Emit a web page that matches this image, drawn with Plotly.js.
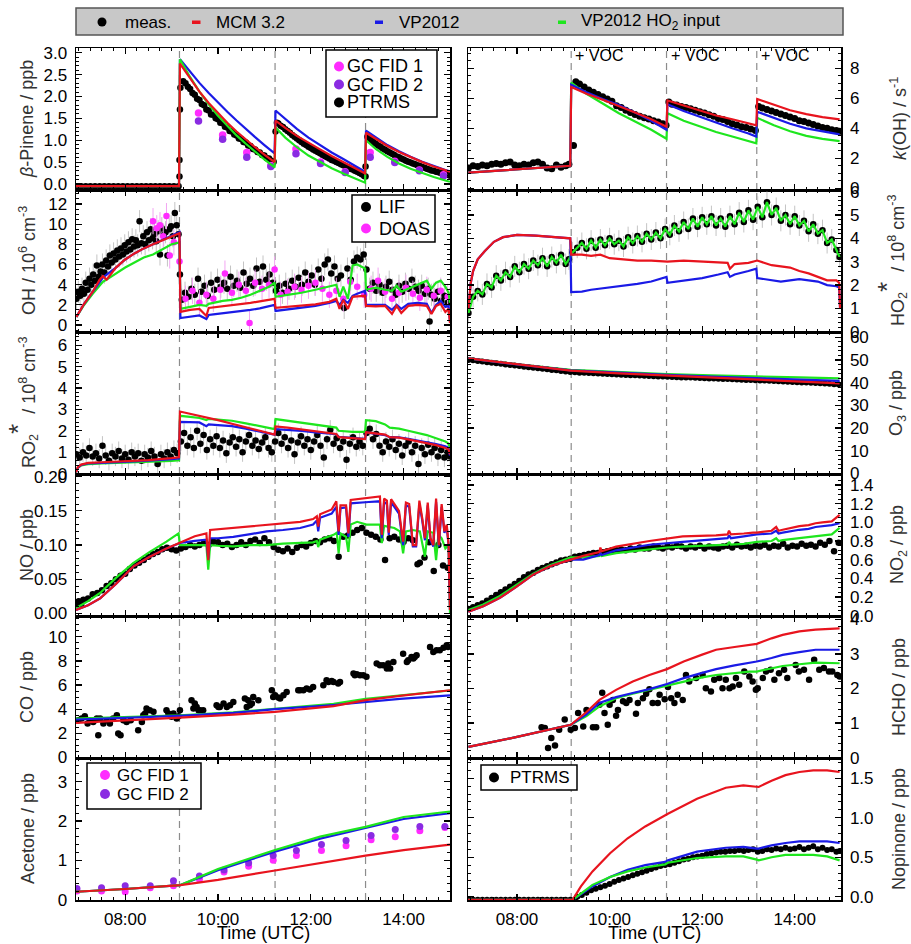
<!DOCTYPE html>
<html><head><meta charset="utf-8">
<script src="https://cdn.plot.ly/plotly-3.0.1.min.js"></script>
<style>html,body{margin:0;padding:0;background:#fff}</style>
</head><body><div id="chart" style="width:911px;height:944px"></div>
<script>
// ================= DATA =================
const vocT = [9.17, 11.23, 13.18];
const xTickVals = [8, 10, 12, 14];
const xTickText = ['08:00', '10:00', '12:00', '14:00'];

// --- beta-pinene (models) ---
const bpT = [6.94, 9.16, 9.18, 9.4, 9.6, 9.8, 10.0, 10.2, 10.4, 10.6, 10.8, 11.0, 11.22, 11.24, 11.45, 11.7, 11.95, 12.2, 12.45, 12.7, 12.95, 13.17, 13.19, 13.4, 13.65, 13.9, 14.15, 14.4, 14.65, 14.9, 15.0];
const bpMCM = [-0.05, -0.05, 2.75, 2.40, 2.11, 1.85, 1.62, 1.40, 1.20, 1.01, 0.84, 0.67, 0.50, 1.45, 1.28, 1.10, 0.94, 0.79, 0.64, 0.50, 0.36, 0.24, 1.17, 1.03, 0.87, 0.73, 0.61, 0.50, 0.40, 0.31, 0.28];
const bpVP = [-0.05, -0.05, 2.85, 2.56, 2.31, 2.08, 1.86, 1.65, 1.45, 1.25, 1.07, 0.89, 0.70, 1.68, 1.48, 1.26, 1.06, 0.88, 0.72, 0.57, 0.42, 0.28, 1.22, 1.06, 0.89, 0.75, 0.62, 0.51, 0.41, 0.32, 0.29];
const bpVPH = [-0.05, -0.05, 2.85, 2.44, 2.11, 1.82, 1.56, 1.33, 1.11, 0.92, 0.73, 0.56, 0.38, 1.29, 1.06, 0.84, 0.65, 0.50, 0.36, 0.24, 0.12, 0.03, 1.0, 0.80, 0.62, 0.47, 0.35, 0.25, 0.16, 0.08, 0.05];
// --- beta-pinene (measurements) ---
const bpGCT = [9.58, 10.10, 10.62, 11.14, 11.68, 12.21, 12.74, 13.28, 13.81, 14.34, 14.86];
const bpGC1 = [1.62, 1.12, 0.72, 0.42, 0.80, 0.50, 0.28, 0.72, 0.52, 0.32, 0.21];
const bpGC2 = [1.44, 1.02, 0.61, 0.40, 0.69, 0.47, 0.26, 0.61, 0.49, 0.30, 0.18];
const bpPTR = [[6.95,-0.05],[7.05,-0.05],[7.15,-0.05],[7.25,-0.05],[7.35,-0.05],[7.45,-0.05],[7.55,-0.05],[7.65,-0.05],[7.75,-0.05],[7.85,-0.05],[7.95,-0.05],[8.05,-0.05],[8.15,-0.05],[8.25,-0.05],[8.35,-0.05],[8.45,-0.05],[8.55,-0.05],[8.65,-0.05],[8.75,-0.05],[8.85,-0.05],[8.95,-0.05],[9.05,-0.05],[9.15,-0.05],
[9.17,0.17],[9.17,0.55],[9.18,1.7],[9.19,2.2],
[9.25,2.35],[9.3,2.30],[9.35,2.22],[9.4,2.17],[9.45,2.08],[9.5,2.04],[9.55,1.95],[9.6,1.92],[9.65,1.83],[9.7,1.80],[9.75,1.70],[9.8,1.68],[9.85,1.59],[9.9,1.58],[9.95,1.50],[10.0,1.48],[10.05,1.40],[10.1,1.39],[10.15,1.31],[10.2,1.29],[10.25,1.21],[10.3,1.20],[10.35,1.13],[10.4,1.11],[10.45,1.04],[10.5,1.03],[10.55,0.96],[10.6,0.95],[10.65,0.88],[10.7,0.87],[10.75,0.80],[10.8,0.79],[10.85,0.73],[10.9,0.72],[10.95,0.66],[11.0,0.65],[11.05,0.59],[11.1,0.58],[11.15,0.53],[11.2,0.51],
[11.24,1.2],[11.27,1.40],[11.3,1.38],[11.35,1.33],[11.4,1.30],[11.45,1.25],[11.5,1.21],[11.55,1.17],[11.6,1.12],[11.65,1.08],[11.7,1.04],[11.75,1.0],[11.8,0.96],[11.85,0.92],[11.9,0.89],[11.95,0.85],[12.0,0.82],[12.05,0.79],[12.1,0.76],[12.15,0.73],[12.2,0.70],[12.25,0.67],[12.3,0.64],[12.35,0.61],[12.4,0.58],[12.45,0.55],[12.5,0.53],[12.55,0.50],[12.6,0.48],[12.65,0.45],[12.7,0.43],[12.75,0.40],[12.8,0.38],[12.85,0.35],[12.9,0.33],[12.95,0.30],[13.0,0.28],[13.05,0.25],[13.1,0.22],[13.15,0.18],
[13.18,0.17],[13.18,0.40],
[13.22,1.08],[13.25,1.05],[13.3,1.0],[13.35,0.96],[13.4,0.92],[13.45,0.88],[13.5,0.85],[13.55,0.81],[13.6,0.78],[13.65,0.75],[13.7,0.72],[13.75,0.69],[13.8,0.66],[13.85,0.63],[13.9,0.61],[13.95,0.58],[14.0,0.56],[14.05,0.53],[14.1,0.51],[14.15,0.49],[14.2,0.47],[14.25,0.45],[14.3,0.43],[14.35,0.41],[14.4,0.39],[14.45,0.37],[14.5,0.35],[14.55,0.33],[14.6,0.31],[14.65,0.30],[14.7,0.28],[14.75,0.27],[14.8,0.25],[14.85,0.24],[14.9,0.22],[14.95,0.21],[15.0,0.19]];

// --- k(OH) ---
const kT = [6.95, 9.15, 9.17, 9.5, 9.85, 10.2, 10.55, 10.9, 11.23, 11.25, 11.6, 11.95, 12.3, 12.65, 13.0, 13.17, 13.19, 13.55, 13.9, 14.25, 14.6, 14.97];
const kMCM = [1.05, 1.5, 6.75, 6.3, 5.9, 5.5, 5.05, 4.6, 4.1, 5.85, 5.5, 5.15, 4.85, 4.6, 4.35, 4.2, 5.95, 5.55, 5.2, 4.95, 4.75, 4.6];
const kVP = [1.05, 1.5, 6.9, 6.4, 5.95, 5.55, 5.05, 4.5, 3.9, 5.6, 5.15, 4.75, 4.35, 4.0, 3.65, 3.45, 5.1, 4.7, 4.3, 4.0, 3.8, 3.6];
const kVPH = [1.05, 1.5, 7.05, 6.3, 5.65, 5.0, 4.45, 3.9, 3.3, 5.0, 4.5, 4.1, 3.75, 3.45, 3.15, 3.0, 4.7, 4.2, 3.8, 3.5, 3.3, 3.15];
const kMeas = [[6.95,1.35],[7.05,1.5],[7.15,1.45],[7.25,1.55],[7.35,1.5],[7.45,1.6],[7.55,1.65],[7.65,1.6],[7.75,1.7],[7.85,1.75],[7.95,1.55],[8.05,1.5],[8.15,1.6],[8.25,1.55],[8.35,1.7],[8.45,1.75],[8.55,1.6],[8.65,1.35],[8.75,1.3],[8.85,1.55],[8.95,1.4],[9.05,1.5],[9.12,1.6],[9.22,2.85],
[9.27,7.1],[9.35,6.95],[9.45,6.75],[9.55,6.55],[9.65,6.4],[9.75,6.25],[9.85,6.1],[9.95,5.95],[10.05,5.8],[10.15,5.5],[10.25,5.38],[10.35,5.2],[10.45,5.05],[10.55,4.92],[10.65,4.8],[10.75,4.7],[10.85,4.62],[10.95,4.5],[11.05,4.42],[11.15,4.3],[11.22,4.2],
[11.28,5.75],[11.35,5.6],[11.45,5.55],[11.55,5.45],[11.65,5.38],[11.75,5.3],[11.85,5.2],[11.95,5.1],[12.05,5.02],[12.15,4.9],[12.25,4.8],[12.35,4.65],[12.45,4.58],[12.55,4.45],[12.65,4.3],[12.75,4.22],[12.85,4.1],[12.95,4.05],[13.05,3.95],[13.15,3.85],
[13.22,5.45],[13.3,5.35],[13.4,5.25],[13.5,5.15],[13.6,5.05],[13.7,4.95],[13.8,4.85],[13.9,4.75],[14.0,4.65],[14.1,4.5],[14.2,4.45],[14.3,4.35],[14.4,4.25],[14.5,4.15],[14.6,4.05],[14.7,4.0],[14.8,3.9],[14.9,3.85],[14.97,3.8]];

// --- OH ---
const ohT = [6.95, 7.1, 7.3, 7.45, 7.52, 7.6, 7.8, 8.0, 8.2, 8.4, 8.6, 8.8, 9.0, 9.17, 9.19, 9.4, 9.6, 9.75, 9.8, 9.9, 10.1, 10.3, 10.5, 10.7, 10.9, 11.1, 11.22, 11.24, 11.5, 11.8, 12.1, 12.4, 12.55, 12.62, 12.7, 12.8, 12.9, 13.0, 13.17, 13.19, 13.4, 13.6, 13.75, 13.85, 13.95, 14.1, 14.3, 14.5, 14.6, 14.7, 14.8, 14.9, 14.97, 15.0];
const ohMCM = [0.8, 2.0, 3.3, 4.5, 4.85, 4.5, 5.7, 6.5, 7.1, 7.6, 8.0, 8.4, 8.8, 9.1, 1.3, 1.5, 1.6, 0.9, 1.7, 1.75, 1.85, 1.95, 2.05, 2.2, 2.35, 2.5, 2.6, 1.7, 1.8, 1.9, 2.05, 2.3, 2.6, 1.6, 2.5, 1.6, 2.8, 2.85, 2.9, 1.9, 1.85, 1.9, 1.1, 1.9, 1.2, 1.9, 2.0, 1.9, 1.1, 1.9, 2.1, 1.3, 1.6, 0.2];
const ohVP = [0.8, 2.0, 3.3, 4.3, 4.7, 5.0, 5.7, 6.5, 7.1, 7.6, 8.0, 8.45, 8.85, 9.2, 0.7, 0.85, 0.95, 0.6, 1.0, 1.05, 1.15, 1.25, 1.35, 1.5, 1.65, 1.85, 2.0, 1.4, 1.55, 1.7, 1.9, 2.2, 2.4, 2.0, 2.5, 2.2, 2.9, 3.1, 3.4, 2.0, 2.0, 2.0, 1.5, 2.0, 1.6, 2.1, 2.2, 2.1, 1.2, 2.0, 2.4, 1.8, 1.9, 0.3];
const ohVPH = [0.8, 1.9, 3.1, 4.0, 4.3, 4.5, 5.1, 5.7, 6.2, 6.7, 7.0, 7.5, 8.0, 8.2, 1.6, 1.8, 2.0, 1.9, 2.1, 2.2, 2.4, 2.5, 2.7, 3.0, 3.4, 3.8, 4.2, 2.8, 3.0, 3.2, 3.5, 3.8, 4.0, 2.8, 3.8, 2.6, 5.9, 6.0, 5.6, 3.5, 3.7, 3.5, 3.4, 3.9, 3.3, 3.6, 4.0, 4.4, 3.6, 4.2, 4.4, 3.8, 3.2, 2.2];
const ohLIF = [[6.95,2.6],[6.99,3.3],[7.03,2.9],[7.07,3.6],[7.11,3.1],[7.15,4.2],[7.19,3.5],[7.23,4.6],[7.27,4.0],[7.31,5.0],[7.35,4.4],[7.39,5.9],[7.43,4.8],[7.47,5.3],[7.51,6.0],[7.55,5.2],[7.59,6.4],[7.63,5.8],[7.67,6.9],[7.71,6.2],[7.75,7.1],[7.79,6.5],[7.83,7.4],[7.87,6.8],[7.91,7.6],[7.95,7.0],[7.99,7.9],[8.03,7.3],[8.07,8.2],[8.11,7.5],[8.15,8.5],[8.19,7.8],[8.23,8.4],[8.27,7.9],[8.31,10.3],[8.35,8.1],[8.39,8.8],[8.43,8.0],[8.47,9.2],[8.51,8.4],[8.55,9.5],[8.59,8.6],[8.63,9.0],[8.67,8.3],[8.71,9.3],[8.75,7.0],[8.79,9.6],[8.83,8.9],[8.87,9.2],[8.91,6.9],[8.95,9.5],[8.99,9.8],[9.03,8.8],[9.07,11.1],[9.11,9.9],[9.15,9.0],[9.18,5.0],
[9.22,2.5],[9.29,3.2],[9.36,2.8],[9.43,3.6],[9.5,3.0],[9.57,4.6],[9.64,3.3],[9.71,3.9],[9.78,2.9],[9.85,4.2],[9.92,3.5],[9.99,4.5],[10.06,3.8],[10.13,4.2],[10.2,3.6],[10.27,4.8],[10.34,3.9],[10.41,4.4],[10.48,3.7],[10.55,5.2],[10.62,4.1],[10.69,4.6],[10.76,3.9],[10.83,5.6],[10.9,4.3],[10.97,5.8],[11.04,4.5],[11.11,5.0],[11.18,4.2],[11.25,3.4],[11.32,3.9],[11.39,3.2],[11.46,4.1],[11.53,3.6],[11.6,4.4],[11.67,3.8],[11.74,4.7],[11.81,4.0],[11.88,5.2],[11.95,4.3],[12.02,4.9],[12.09,4.0],[12.16,5.5],[12.23,4.6],[12.3,6.0],[12.37,6.5],[12.44,5.1],[12.51,5.8],[12.58,4.6],[12.65,4.9],[12.72,1.7],[12.79,5.6],[12.86,4.5],[12.93,6.3],[13.0,6.7],[13.07,6.5],[13.14,7.0],[13.2,5.5],[13.27,3.6],[13.34,4.2],[13.41,3.4],[13.48,4.0],[13.55,3.2],[13.62,3.8],[13.69,4.3],[13.76,3.5],[13.83,3.0],[13.9,3.9],[13.97,3.3],[14.04,4.1],[14.11,3.6],[14.18,4.5],[14.25,3.8],[14.32,3.4],[14.39,3.9],[14.46,3.1],[14.53,3.6],[14.56,0.35],[14.6,3.0],[14.67,2.6],[14.74,3.3],[14.81,2.4],[14.88,2.9],[14.95,2.2],[15.0,2.6]];
const ohDOAS = [[8.6,10.3],[8.68,9.6],[8.75,9.9],[8.82,8.8],[8.89,10.8],[8.96,6.9],[9.05,8.2],[9.17,6.3],
[9.3,2.6],[9.45,3.4],[9.6,2.2],[9.75,3.0],[9.9,2.6],[10.05,3.5],[10.15,5.1],[10.3,3.2],[10.45,4.0],[10.6,3.4],[10.68,0.2],[10.8,4.2],[10.95,3.6],[11.1,4.0],[11.22,5.5],[11.35,3.0],[11.5,3.3],[11.65,3.8],[11.8,3.5],[11.95,3.9],[12.1,4.2],[12.25,3.6],[12.4,3.0],[12.55,3.4],[12.7,2.6],[12.85,4.3],[13.0,3.8],[13.15,3.0],[13.3,3.6],[13.45,4.4],[13.6,3.3],[13.75,2.6],[13.9,3.2],[14.05,3.7],[14.2,3.1],[14.35,2.7],[14.5,3.5],[14.65,2.9],[14.8,3.4],[14.95,2.8]];

// --- HO2* ---
const hoT = [6.95, 7.0, 7.05, 7.15, 7.3, 7.5, 7.7, 8.0, 8.4, 8.8, 9.15, 9.17, 9.4, 9.6, 9.8, 10.0, 10.3, 10.6, 10.9, 11.23, 11.25, 11.6, 12.0, 12.35, 12.55, 12.6, 12.7, 13.0, 13.17, 13.19, 13.5, 13.7, 13.9, 14.1, 14.3, 14.5, 14.7, 14.9, 14.96, 14.98];
const hoMCM = [1.0, 2.1, 2.6, 3.1, 3.45, 3.85, 4.05, 4.15, 4.12, 4.05, 4.0, 3.3, 3.3, 3.25, 3.3, 3.15, 3.1, 3.05, 3.05, 3.0, 3.0, 3.05, 3.0, 2.95, 2.95, 2.7, 2.9, 2.95, 3.05, 3.05, 2.85, 2.8, 2.75, 2.6, 2.5, 2.35, 2.2, 2.2, 2.1, 1.0];
const hoVP = [1.0, 2.1, 2.6, 3.1, 3.45, 3.85, 4.05, 4.15, 4.12, 4.05, 4.0, 1.7, 1.72, 1.8, 1.85, 1.9, 1.95, 2.05, 2.15, 2.35, 2.1, 2.2, 2.3, 2.45, 2.55, 2.35, 2.45, 2.6, 2.7, 2.3, 2.2, 2.15, 2.2, 2.25, 2.2, 2.15, 2.0, 1.95, 1.9, 1.0];
const hoMeas = [[6.95,0.8],[7.05,1.5],[7.15,1.75],[7.25,1.6],[7.35,2.05],[7.45,1.9],[7.55,2.4],[7.65,2.2],[7.75,2.55],[7.85,2.35],[7.95,2.8],[8.05,2.55],[8.15,2.9],[8.25,2.7],[8.35,3.05],[8.45,2.85],[8.55,3.15],[8.65,2.8],[8.75,3.2],[8.85,2.95],[8.95,3.3],[9.05,2.9],[9.12,3.1],
[9.2,3.4],[9.3,3.6],[9.4,3.8],[9.5,3.55],[9.6,3.9],[9.7,3.6],[9.8,3.95],[9.9,3.7],[10.0,4.0],[10.1,3.75],[10.2,3.9],[10.3,3.65],[10.4,4.05],[10.5,3.8],[10.6,4.1],[10.7,3.85],[10.8,4.2],[10.9,3.95],[11.0,4.25],[11.1,4.0],[11.2,4.4],[11.3,4.15],[11.4,4.55],[11.5,4.3],[11.6,4.7],[11.7,4.4],[11.8,4.85],[11.9,4.5],[12.0,4.9],[12.1,4.6],[12.2,4.95],[12.3,4.55],[12.4,4.85],[12.5,4.5],[12.6,4.95],[12.7,4.6],[12.8,5.1],[12.9,4.7],[13.0,5.2],[13.1,4.8],[13.2,5.35],[13.3,4.9],[13.4,5.55],[13.5,5.0],[13.6,5.3],[13.7,4.75],[13.8,5.0],[13.9,4.6],[14.0,4.95],[14.1,4.55],[14.2,4.75],[14.3,4.3],[14.4,4.6],[14.5,4.2],[14.6,4.35],[14.7,3.8],[14.8,3.95],[14.9,3.5],[14.97,3.2]];

// --- RO2* ---
const roT = [6.94, 6.98, 7.05, 7.2, 7.5, 8.0, 8.5, 9.0, 9.16, 9.18, 9.4, 9.6, 9.75, 9.8, 10.0, 10.3, 10.6, 10.9, 11.22, 11.24, 11.5, 11.8, 12.1, 12.4, 12.55, 12.6, 12.9, 13.17, 13.19, 13.4, 13.6, 13.7, 13.9, 14.1, 14.3, 14.5, 14.7, 14.9, 14.97, 15.0];
const roMCM = [0.06, 0.3, 0.42, 0.5, 0.53, 0.57, 0.63, 0.72, 0.76, 2.9, 2.8, 2.7, 2.62, 2.6, 2.5, 2.33, 2.15, 2.0, 1.82, 2.2, 2.15, 2.07, 1.98, 1.9, 1.85, 1.7, 1.65, 1.61, 1.93, 1.88, 1.82, 1.7, 1.68, 1.6, 1.52, 1.43, 1.33, 1.2, 1.12, 0.9];
const roVP = [0.06, 0.28, 0.4, 0.47, 0.5, 0.54, 0.6, 0.67, 0.7, 2.42, 2.41, 2.39, 2.22, 2.3, 2.27, 2.22, 2.1, 1.97, 1.82, 2.08, 2.05, 2.0, 1.93, 1.87, 1.84, 1.72, 1.67, 1.62, 1.93, 1.88, 1.8, 1.7, 1.69, 1.62, 1.55, 1.47, 1.38, 1.27, 1.2, 0.84];
const roVPH = [0.06, 0.27, 0.38, 0.44, 0.47, 0.5, 0.54, 0.59, 0.62, 2.7, 2.65, 2.6, 2.5, 2.56, 2.52, 2.47, 2.35, 2.22, 2.08, 2.55, 2.47, 2.4, 2.3, 2.2, 2.15, 2.0, 1.95, 1.95, 2.5, 2.45, 2.3, 2.15, 2.1, 2.0, 1.9, 1.8, 1.65, 1.5, 1.4, 1.2];
const roMeas = [[6.95,0.9],[7.02,0.75],[7.09,1.0],[7.16,0.85],[7.23,1.2],[7.3,0.8],[7.37,0.95],[7.44,0.7],[7.51,1.3],[7.58,0.85],[7.65,0.6],[7.72,0.95],[7.79,0.8],[7.86,1.05],[7.93,0.7],[8.0,0.9],[8.07,0.65],[8.14,1.0],[8.21,0.8],[8.28,0.95],[8.35,0.6],[8.42,0.9],[8.49,0.75],[8.56,1.05],[8.63,0.8],[8.7,0.45],[8.77,0.9],[8.84,0.7],[8.91,1.0],[8.98,0.8],[9.05,1.1],[9.12,0.95],
[9.2,1.5],[9.27,1.9],[9.34,1.3],[9.41,1.7],[9.48,1.2],[9.55,2.0],[9.62,1.4],[9.69,1.8],[9.76,1.1],[9.83,1.6],[9.9,1.3],[9.97,1.75],[10.04,1.2],[10.11,1.55],[10.18,0.95],[10.25,1.45],[10.32,1.7],[10.39,1.25],[10.46,1.6],[10.53,1.0],[10.6,1.5],[10.67,1.8],[10.74,1.3],[10.81,1.55],[10.88,1.15],[10.95,1.45],[11.02,1.7],[11.09,1.2],[11.16,1.0],[11.23,1.5],[11.3,1.9],[11.37,1.4],[11.44,1.7],[11.51,1.2],[11.58,1.55],[11.65,0.9],[11.72,1.45],[11.79,1.75],[11.86,1.3],[11.93,1.6],[12.0,1.1],[12.07,1.5],[12.14,1.8],[12.21,1.3],[12.28,0.75],[12.35,1.6],[12.42,2.05],[12.49,1.4],[12.56,1.65],[12.63,1.2],[12.7,1.5],[12.77,0.65],[12.84,1.4],[12.91,1.7],[12.98,1.25],[13.05,1.5],[13.12,1.3],[13.2,1.9],[13.27,2.1],[13.34,1.6],[13.41,1.85],[13.48,1.3],[13.55,1.0],[13.62,1.5],[13.69,1.25],[13.76,1.6],[13.83,1.1],[13.9,1.4],[13.97,0.85],[14.04,1.3],[14.11,1.5],[14.18,1.0],[14.25,1.3],[14.32,0.45],[14.39,1.2],[14.46,0.9],[14.53,1.35],[14.6,1.0],[14.67,1.2],[14.74,0.8],[14.81,1.1],[14.88,0.75],[14.95,1.0],[15.0,0.8]];

// --- O3 ---
const o3T = [6.95, 8.0, 9.16, 10.2, 11.24, 12.2, 13.18, 14.1, 14.97];
const o3MCM = [50.7, 48.0, 45.3, 44.1, 43.1, 42.3, 41.5, 40.6, 39.7];
const o3VP = [50.7, 48.0, 45.4, 44.3, 43.4, 42.6, 42.0, 41.5, 40.8];
const o3VPH = [50.7, 48.1, 45.6, 44.6, 43.8, 43.2, 42.6, 42.3, 41.9];
const o3Meas = [[6.95,50.0],[7.05,49.8],[7.15,49.5],[7.25,49.3],[7.35,49.0],[7.45,48.8],[7.55,48.5],[7.65,48.3],[7.75,48.0],[7.85,47.8],[7.95,47.5],[8.05,47.3],[8.15,47.0],[8.25,46.8],[8.35,46.6],[8.45,46.3],[8.55,46.1],[8.65,45.9],[8.75,45.6],[8.85,45.4],[8.95,45.1],[9.05,44.9],[9.15,44.7],[9.25,44.6],[9.35,44.4],[9.45,44.3],[9.55,44.2],[9.65,44.1],[9.75,44.0],[9.85,43.9],[9.95,43.8],[10.05,43.7],[10.15,43.6],[10.25,43.5],[10.35,43.4],[10.45,43.3],[10.55,43.2],[10.65,43.1],[10.75,43.0],[10.85,42.9],[10.95,42.8],[11.05,42.7],[11.15,42.65],[11.25,42.6],[11.35,42.5],[11.45,42.4],[11.55,42.3],[11.65,42.25],[11.75,42.2],[11.85,42.1],[11.95,42.0],[12.05,41.9],[12.15,41.85],[12.25,41.8],[12.35,41.7],[12.45,41.6],[12.55,41.55],[12.65,41.5],[12.75,41.4],[12.85,41.3],[12.95,41.2],[13.05,41.1],[13.15,41.0],[13.25,40.95],[13.35,40.9],[13.45,40.8],[13.55,40.7],[13.65,40.6],[13.75,40.5],[13.85,40.4],[13.95,40.3],[14.05,40.2],[14.15,40.1],[14.25,40.0],[14.35,39.9],[14.45,39.8],[14.55,39.7],[14.65,39.6],[14.75,39.5],[14.85,39.3],[14.95,39.2]];

// --- NO ---
const noT = [6.94, 7.2, 7.46, 7.8, 8.18, 8.53, 8.89, 9.18, 9.5, 9.75, 9.79, 9.83, 10.0, 10.33, 10.7, 11.05, 11.4, 11.77, 12.05, 12.13, 12.16, 12.2, 12.45, 12.55, 12.6, 12.64, 12.76, 12.81, 12.86, 13.0, 13.25, 13.49, 13.53, 13.58, 13.64, 13.68, 13.73, 13.8, 13.9, 13.99, 14.05, 14.12, 14.2, 14.27, 14.34, 14.4, 14.46, 14.52, 14.58, 14.64, 14.7, 14.76, 14.82, 14.88, 14.93, 14.97, 15.0];
const noMCM = [0.005, 0.012, 0.022, 0.043, 0.069, 0.083, 0.095, 0.104, 0.113, 0.117, 0.078, 0.122, 0.123, 0.125, 0.127, 0.13, 0.131, 0.134, 0.138, 0.142, 0.127, 0.145, 0.152, 0.164, 0.12, 0.158, 0.158, 0.117, 0.166, 0.167, 0.169, 0.171, 0.115, 0.168, 0.165, 0.118, 0.167, 0.16, 0.15, 0.105, 0.162, 0.16, 0.1, 0.1, 0.165, 0.14, 0.11, 0.162, 0.11, 0.1, 0.168, 0.1, 0.16, 0.12, 0.13, 0.1, 0.005];
const noVP = [0.005, 0.012, 0.022, 0.043, 0.069, 0.083, 0.095, 0.103, 0.106, 0.108, 0.08, 0.11, 0.11, 0.112, 0.116, 0.12, 0.122, 0.125, 0.13, 0.136, 0.12, 0.14, 0.146, 0.156, 0.115, 0.154, 0.155, 0.112, 0.161, 0.162, 0.163, 0.164, 0.11, 0.163, 0.16, 0.115, 0.162, 0.156, 0.146, 0.1, 0.158, 0.156, 0.098, 0.098, 0.16, 0.137, 0.107, 0.158, 0.107, 0.098, 0.163, 0.098, 0.156, 0.118, 0.126, 0.1, 0.005];
const noTg = [6.94, 7.2, 7.46, 7.8, 8.18, 8.53, 8.89, 9.15, 9.18, 9.5, 9.75, 9.79, 9.83, 10.0, 10.33, 10.7, 11.05, 11.4, 11.77, 12.05, 12.13, 12.16, 12.2, 12.49, 12.56, 12.6, 12.64, 12.76, 12.81, 12.86, 13.0, 13.2, 13.49, 13.53, 13.58, 13.8, 13.92, 13.99, 14.05, 14.2, 14.35, 14.46, 14.52, 14.64, 14.7, 14.75, 14.82, 14.9, 14.97, 15.0];
const noVPH = [0.008, 0.018, 0.03, 0.052, 0.074, 0.09, 0.105, 0.117, 0.1, 0.1, 0.1, 0.064, 0.1, 0.099, 0.098, 0.1, 0.1, 0.102, 0.103, 0.104, 0.106, 0.097, 0.108, 0.115, 0.118, 0.088, 0.117, 0.112, 0.09, 0.13, 0.134, 0.13, 0.13, 0.103, 0.128, 0.125, 0.12, 0.088, 0.12, 0.122, 0.12, 0.083, 0.12, 0.118, 0.078, 0.115, 0.11, 0.095, 0.1, 0.0];
const noMeas = [[6.95,0.015],[7.0,0.018],[7.05,0.013],[7.1,0.02],[7.2,0.022],[7.3,0.028],[7.4,0.03],[7.5,0.034],[7.6,0.04],[7.7,0.044],[7.8,0.05],[7.9,0.055],[8.0,0.058],[8.1,0.065],[8.2,0.07],[8.3,0.074],[8.4,0.078],[8.5,0.083],[8.6,0.087],[8.7,0.09],[8.8,0.094],[8.9,0.096],[9.0,0.094],[9.1,0.092],
[9.2,0.095],[9.3,0.097],[9.4,0.1],[9.5,0.098],[9.6,0.1],[9.7,0.103],[9.8,0.1],[9.9,0.105],[10.0,0.104],[10.1,0.1],[10.2,0.102],[10.3,0.097],[10.4,0.1],[10.5,0.104],[10.6,0.1],[10.7,0.106],[10.8,0.108],[10.9,0.103],[11.0,0.11],[11.1,0.104],[11.2,0.097],[11.3,0.093],[11.4,0.091],[11.5,0.095],[11.6,0.09],[11.7,0.096],[11.8,0.1],[11.9,0.098],[12.0,0.103],[12.1,0.106],[12.2,0.104],[12.3,0.108],[12.4,0.11],[12.5,0.106],[12.6,0.083],[12.7,0.112],[12.8,0.114],[12.9,0.118],[13.0,0.122],[13.1,0.125],[13.2,0.118],[13.3,0.115],[13.4,0.112],[13.5,0.108],[13.6,0.078],[13.7,0.11],[13.8,0.112],[13.9,0.108],[14.0,0.105],[14.1,0.11],[14.2,0.107],[14.3,0.072],[14.35,0.074],[14.45,0.082],[14.55,0.104],[14.65,0.062],[14.75,0.1],[14.85,0.07],[14.95,0.067]];

// --- NO2 ---
const n2T = [6.95, 7.27, 7.63, 7.99, 8.35, 8.71, 9.16, 9.43, 9.78, 9.8, 9.83, 10.14, 10.86, 11.24, 11.58, 12.3, 12.55, 12.58, 12.62, 12.9, 13.02, 13.1, 13.18, 13.5, 13.6, 13.65, 13.74, 14.1, 14.3, 14.45, 14.6, 14.8, 14.97];
const n2MCM = [0.043, 0.1, 0.19, 0.31, 0.44, 0.53, 0.6, 0.64, 0.68, 0.73, 0.69, 0.74, 0.8, 0.83, 0.85, 0.86, 0.87, 0.91, 0.87, 0.88, 0.89, 0.89, 0.89, 0.91, 0.95, 0.91, 0.92, 0.96, 0.97, 0.99, 1.0, 1.01, 1.08];
const n2VP = [0.043, 0.1, 0.19, 0.31, 0.44, 0.53, 0.6, 0.6, 0.65, 0.67, 0.65, 0.7, 0.76, 0.78, 0.79, 0.82, 0.83, 0.86, 0.83, 0.85, 0.86, 0.86, 0.87, 0.88, 0.91, 0.88, 0.89, 0.92, 0.93, 0.95, 0.96, 0.97, 0.99];
const n2VPH = [0.06, 0.12, 0.21, 0.33, 0.45, 0.54, 0.625, 0.625, 0.64, 0.67, 0.64, 0.67, 0.71, 0.73, 0.74, 0.76, 0.76, 0.79, 0.76, 0.77, 0.78, 0.78, 0.79, 0.8, 0.83, 0.8, 0.81, 0.83, 0.84, 0.85, 0.86, 0.87, 0.94];
const n2Meas = [[6.95,0.07],[7.05,0.09],[7.15,0.11],[7.25,0.13],[7.35,0.16],[7.45,0.19],[7.55,0.22],[7.65,0.25],[7.75,0.28],[7.85,0.31],[7.95,0.34],[8.05,0.37],[8.15,0.41],[8.25,0.44],[8.35,0.46],[8.45,0.49],[8.55,0.51],[8.65,0.53],[8.75,0.55],[8.85,0.57],[8.95,0.59],[9.05,0.6],[9.15,0.61],[9.25,0.63],[9.35,0.64],[9.45,0.65],[9.55,0.66],[9.65,0.67],[9.75,0.67],[9.85,0.68],[9.95,0.69],[10.05,0.7],[10.15,0.7],[10.25,0.71],[10.35,0.7],[10.45,0.72],[10.55,0.71],[10.65,0.73],[10.75,0.72],[10.85,0.72],[10.95,0.74],[11.05,0.73],[11.15,0.72],[11.25,0.74],[11.35,0.73],[11.45,0.75],[11.55,0.74],[11.65,0.72],[11.75,0.74],[11.85,0.73],[11.95,0.75],[12.05,0.72],[12.15,0.74],[12.25,0.73],[12.35,0.72],[12.45,0.74],[12.55,0.75],[12.65,0.73],[12.75,0.76],[12.85,0.74],[12.95,0.75],[13.05,0.73],[13.15,0.75],[13.25,0.74],[13.35,0.76],[13.45,0.73],[13.55,0.75],[13.65,0.74],[13.75,0.77],[13.85,0.73],[13.95,0.75],[14.05,0.74],[14.15,0.77],[14.25,0.75],[14.35,0.76],[14.45,0.74],[14.55,0.78],[14.65,0.76],[14.75,0.8],[14.85,0.69],[14.95,0.78]];

// --- CO ---
const coT = [6.94, 8.18, 9.18, 10.33, 11.23, 12.49, 13.18, 13.92, 15.0];
const coMCM = [2.87, 3.09, 3.3, 3.55, 3.78, 4.25, 4.75, 5.1, 5.57];
const coVP = [3.15, 3.3, 3.45, 3.7, 4.0, 4.35, 4.6, 4.85, 5.15];
const coVPH = [3.22, 3.36, 3.5, 3.75, 4.05, 4.45, 4.85, 5.15, 5.55];
const coMeas = [[6.99,3.09],[7.06,3.23],[7.13,3.42],[7.19,2.81],[7.24,3.09],[7.31,2.95],[7.35,3.09],[7.39,3.23],[7.42,1.85],[7.46,3.23],[7.53,2.81],[7.6,3.09],[7.67,2.81],[7.74,3.23],[7.82,3.5],[7.85,1.99],[7.9,1.85],[7.96,3.09],[8.03,2.95],[8.12,3.09],[8.28,2.26],[8.36,2.95],[8.39,3.5],[8.43,3.64],[8.46,4.06],[8.53,3.92],[8.61,3.78],[8.89,3.92],[8.93,3.64],[9.0,3.37],[9.04,3.64],[9.11,3.23],[9.15,3.42],[9.18,3.92],[9.43,4.74],[9.47,4.06],[9.5,4.47],[9.54,4.19],[9.58,3.92],[9.61,3.92],[9.68,3.92],[9.97,4.33],[10.01,4.19],[10.04,4.19],[10.12,4.47],[10.19,4.19],[10.26,4.33],[10.33,4.6],[10.58,4.88],[10.62,4.19],[10.65,4.74],[10.69,4.33],[10.73,4.47],[10.76,5.02],[10.87,4.74],[11.16,5.57],[11.19,5.02],[11.23,5.16],[11.3,4.97],[11.34,4.88],[11.41,5.16],[11.48,5.43],[11.73,5.57],[11.77,5.57],[11.84,5.57],[11.91,5.71],[11.98,5.63],[12.05,5.85],[12.27,5.99],[12.34,6.4],[12.38,6.26],[12.45,6.34],[12.49,6.26],[12.59,6.12],[12.63,6.26],[12.92,6.95],[12.95,6.81],[12.99,6.9],[13.06,6.81],[13.13,6.81],[13.2,6.68],[13.42,7.78],[13.49,7.64],[13.56,7.64],[13.64,7.37],[13.67,7.78],[13.71,7.37],[13.78,7.92],[13.99,8.6],[14.07,7.92],[14.1,8.06],[14.17,8.33],[14.21,8.19],[14.24,8.33],[14.28,8.47],[14.57,9.16],[14.64,8.74],[14.71,8.88],[14.78,8.88],[14.86,9.1],[14.93,9.3],[14.96,9.16]];

// --- HCHO ---
const hcT = [6.95, 8.0, 9.16, 9.5, 9.78, 10.14, 10.5, 10.86, 11.24, 11.6, 12.0, 12.3, 12.7, 13.02, 13.18, 13.5, 13.74, 14.1, 14.45, 14.97];
const hcMCM = [0.31, 0.6, 0.95, 1.32, 1.67, 1.96, 2.2, 2.39, 2.56, 2.78, 2.98, 3.12, 3.2, 3.25, 3.29, 3.45, 3.55, 3.65, 3.7, 3.74];
const hcVP = [0.31, 0.6, 0.95, 1.25, 1.58, 1.75, 1.87, 1.98, 2.13, 2.3, 2.45, 2.56, 2.67, 2.73, 2.78, 2.88, 2.97, 3.05, 3.12, 3.12];
const hcVPH = [0.31, 0.6, 0.95, 1.2, 1.48, 1.72, 1.85, 1.96, 2.08, 2.2, 2.32, 2.39, 2.45, 2.49, 2.49, 2.58, 2.65, 2.7, 2.75, 2.73];
const hcMeas = [[8.53,0.88],[8.6,0.86],[8.67,0.28],[8.74,0.57],[8.82,0.35],[8.91,0.81],[9.03,1.10],[9.16,0.81],[9.25,0.86],[9.32,1.29],[9.43,0.90],[9.5,1.38],[9.64,0.88],[9.71,0.88],[9.78,1.53],[9.84,1.88],[9.89,1.29],[9.96,0.95],[10.0,1.53],[10.07,1.67],[10.14,1.21],[10.18,1.38],[10.29,1.63],[10.36,1.58],[10.43,1.67],[10.57,1.27],[10.61,1.58],[10.72,1.72],[10.79,1.85],[10.86,1.98],[10.93,1.58],[11.04,1.58],[11.08,1.82],[11.19,1.69],[11.26,2.04],[11.33,1.72],[11.4,1.58],[11.47,1.82],[11.58,1.67],[11.65,2.39],[11.72,2.2],[11.87,2.3],[12.01,2.39],[12.08,2.01],[12.19,1.91],[12.26,2.25],[12.37,2.3],[12.44,2.01],[12.51,2.25],[12.59,2.01],[12.66,2.06],[12.73,2.3],[12.8,2.11],[12.91,2.49],[13.02,2.35],[13.09,2.2],[13.16,1.96],[13.2,2.01],[13.31,2.3],[13.38,2.49],[13.48,2.54],[13.56,2.25],[13.66,2.44],[13.77,2.54],[13.84,2.3],[14.02,2.68],[14.09,2.49],[14.2,2.54],[14.31,2.25],[14.42,2.83],[14.53,2.54],[14.63,2.59],[14.74,2.49],[14.81,2.49],[14.92,2.39],[14.97,2.35]];

// --- Acetone ---
const acT = [6.94, 8.0, 9.19, 10.0, 11.23, 12.2, 13.18, 14.0, 15.0];
const acMCM = [0.2, 0.27, 0.37, 0.5, 0.74, 0.93, 1.12, 1.26, 1.4];
const acVP = [0.2, 0.27, 0.37, 0.75, 1.22, 1.55, 1.82, 2.05, 2.2];
const acVPH = [0.2, 0.27, 0.37, 0.78, 1.26, 1.6, 1.85, 2.1, 2.24];
const acGCT = [6.96, 7.49, 8.0, 8.54, 9.04, 9.6, 10.13, 10.66, 11.19, 11.69, 12.23, 12.76, 13.3, 13.82, 14.35, 14.89];
const acGC1 = [0.22, 0.22, 0.2, 0.3, 0.35, 0.52, 0.7, 0.85, 1.0, 1.12, 1.25, 1.37, 1.52, 1.6, 1.75, 1.83];
const acGC2 = [0.28, 0.3, 0.35, 0.35, 0.48, 0.6, 0.75, 0.93, 1.12, 1.25, 1.4, 1.5, 1.63, 1.78, 1.86, 1.86];

// --- Nopinone ---
const npT = [6.94, 9.2, 9.38, 9.63, 10.01, 10.39, 10.77, 11.2, 11.26, 11.89, 12.51, 12.89, 13.18, 13.22, 13.5, 13.8, 14.1, 14.4, 14.7, 14.97];
const npMCM = [-0.04, -0.04, 0.13, 0.32, 0.55, 0.74, 0.89, 1.03, 1.05, 1.24, 1.38, 1.41, 1.40, 1.39, 1.47, 1.54, 1.58, 1.6, 1.6, 1.58];
const npVP = [-0.04, -0.04, 0.03, 0.13, 0.25, 0.34, 0.4, 0.44, 0.46, 0.57, 0.62, 0.63, 0.61, 0.61, 0.65, 0.68, 0.7, 0.7, 0.7, 0.68];
const npVPH = [-0.04, -0.04, 0.04, 0.15, 0.25, 0.32, 0.37, 0.41, 0.43, 0.49, 0.51, 0.51, 0.47, 0.46, 0.5, 0.53, 0.53, 0.53, 0.51, 0.46];
const npMeas = [[6.95,-0.04],[7.05,-0.04],[7.15,-0.04],[7.25,-0.04],[7.35,-0.04],[7.45,-0.04],[7.55,-0.04],[7.65,-0.04],[7.75,-0.04],[7.85,-0.04],[7.95,-0.04],[8.05,-0.04],[8.15,-0.04],[8.25,-0.04],[8.35,-0.04],[8.45,-0.04],[8.55,-0.04],[8.65,-0.04],[8.75,-0.04],[8.85,-0.04],[8.95,-0.04],[9.05,-0.04],[9.15,-0.04],[9.25,-0.04],
[9.3,0.0],[9.4,0.02],[9.5,0.05],[9.6,0.08],[9.7,0.1],[9.8,0.12],[9.9,0.14],[10.0,0.16],[10.1,0.19],[10.2,0.21],[10.3,0.23],[10.4,0.25],[10.5,0.27],[10.6,0.29],[10.7,0.31],[10.8,0.33],[10.9,0.35],[11.0,0.37],[11.1,0.39],[11.2,0.4],[11.3,0.41],[11.4,0.43],[11.5,0.45],[11.6,0.47],[11.7,0.48],[11.8,0.5],[11.9,0.51],[12.0,0.52],[12.1,0.54],[12.2,0.55],[12.3,0.56],[12.4,0.57],[12.5,0.57],[12.6,0.58],[12.7,0.58],[12.8,0.59],[12.9,0.58],[13.0,0.59],[13.1,0.6],[13.2,0.57],[13.3,0.58],[13.4,0.6],[13.5,0.59],[13.6,0.61],[13.7,0.6],[13.8,0.62],[13.9,0.6],[14.0,0.61],[14.1,0.63],[14.2,0.6],[14.3,0.62],[14.4,0.64],[14.5,0.6],[14.6,0.62],[14.7,0.59],[14.8,0.6],[14.9,0.57],[14.97,0.58]];

// ================= STYLE / LAYOUT =================
const W = 911, H = 944;
const FONT = 'Liberation Sans, Arial, Helvetica, sans-serif';
const RED = '#e8141e', BLUE = '#1a1ae6', GREEN = '#1ee61e', MAG = '#ff2bff', PUR = '#8a2be2';
const X0 = 6.94, X1 = 15.0;
const colPx = [[76, 450], [468, 841]];
const rowPx = [48, 190, 332, 474, 616, 758, 900];
const yRanges = [[-0.137, 3.107], [-0.11, 9.35], [-0.69, 13.39], [-0.01, 6.07], [-0.02, 6.62], [-0.26, 62.3], [-0.0037, 0.2039], [-0.004, 1.518], [-0.04, 11.72], [-0.01, 4.096], [-0.01, 3.6], [-0.042, 1.757]];
const yDtick = [0.5, 2, 2, 1, 1, 10, 0.05, 0.2, 2, 1, 1, 0.5];
const yMinor = [0.1, 0.5, 0.5, 0.2, 0.2, 2, 0.01, 0.05, 0.5, 0.2, 0.2, 0.1];
const yFmt = ['.1f', '', '', '', '', '', '.2f', '.1f', '', '', '', '.1f'];
const STAR = '<sup><span style="font-size:26px">*</span></sup>';
const yTitles = ['<i>β</i>-Pinene / ppb', '<i>k</i>(OH) / s<sup>-1</sup>',
  'OH / 10<sup>6</sup> cm<sup>-3</sup>', 'HO<sub>2</sub>' + STAR + '  / 10<sup>8</sup> cm<sup>-3</sup>',
  'RO<sub>2</sub>' + STAR + '  / 10<sup>8</sup> cm<sup>-3</sup>', 'O<sub>3</sub> / ppb',
  'NO / ppb', 'NO<sub>2</sub> / ppb', 'CO / ppb', 'HCHO / ppb', 'Acetone / ppb', 'Nopinone / ppb'];
const yTitleX = [27, 898, 27, 891, 22, 898, 27, 898, 27, 899, 28, 899];

const px = p => p / W, py = p => 1 - p / H;
const sfx = n => (n === 1 ? '' : String(n));

const layout = {
  width: W, height: H, margin: {l: 0, r: 0, t: 0, b: 0},
  paper_bgcolor: '#fff', plot_bgcolor: 'rgba(0,0,0,0)', showlegend: false,
  font: {family: FONT, size: 17, color: '#000'},
  shapes: [], annotations: []
};

for (let i = 0; i < 12; i++) {
  const r = Math.floor(i / 2), c = i % 2, n = i + 1, s = sfx(n);
  layout['xaxis' + s] = {
    domain: [px(colPx[c][0]), px(colPx[c][1])], range: [X0, X1], anchor: 'y' + s,
    tickmode: 'array', tickvals: xTickVals, ticktext: xTickText,
    showticklabels: r === 5, ticks: 'inside', ticklen: 6, tickwidth: 1.2, tickcolor: '#000',
    minor: {tickmode: 'linear', tick0: 7, dtick: 0.25, ticks: 'inside', ticklen: 3, tickwidth: 1, tickcolor: '#000'},
    showline: true, linecolor: '#000', linewidth: 1.5, mirror: 'allticks',
    showgrid: false, zeroline: false, fixedrange: true,
    tickfont: {family: FONT, size: 17, color: '#000'}, ticklabelstandoff: 3
  };
  layout['yaxis' + s] = {
    domain: [py(rowPx[r + 1]), py(rowPx[r])], range: yRanges[i], anchor: 'x' + s,
    side: c === 0 ? 'left' : 'right', tickmode: 'linear', tick0: 0, dtick: yDtick[i], tickformat: yFmt[i],
    ticks: 'inside', ticklen: 6, tickwidth: 1.2, tickcolor: '#000',
    minor: {dtick: yMinor[i], ticks: 'inside', ticklen: 3, tickwidth: 1, tickcolor: '#000'},
    showline: true, linecolor: '#000', linewidth: 1.5, mirror: 'allticks',
    showgrid: false, zeroline: false, fixedrange: true,
    tickfont: {family: FONT, size: 17, color: '#000'}, ticklabelstandoff: 4
  };
  vocT.forEach(t => layout.shapes.push({type: 'line', xref: 'x' + s, yref: 'y' + s + ' domain', x0: t, x1: t, y0: 0, y1: 1,
    line: {color: '#8c8c8c', width: 1.2, dash: '7px,5px'}, layer: 'below'}));
  layout.annotations.push({xref: 'paper', yref: 'paper', x: px(yTitleX[i]), y: py((rowPx[r] + rowPx[r + 1]) / 2),
    text: yTitles[i], textangle: -90, showarrow: false, xanchor: 'center', yanchor: 'middle',
    font: {family: FONT, size: 18, color: '#333'}});
}
[263, 654.5].forEach(xp => layout.annotations.push({xref: 'paper', yref: 'paper', x: px(xp), y: py(933), text: 'Time (UTC)',
  showarrow: false, xanchor: 'center', yanchor: 'middle', font: {family: FONT, size: 18, color: '#000'}}));
vocT.forEach(t => layout.annotations.push({xref: 'x2', yref: 'paper', x: t, y: py(56), xshift: 2, text: '+ VOC', showarrow: false,
  xanchor: 'left', yanchor: 'middle', font: {family: FONT, size: 16, color: '#000'}}));

function rect(x0, y0, x1, y1, fill, line, lw) {
  layout.shapes.push({type: 'rect', xref: 'paper', yref: 'paper', x0: px(x0), x1: px(x1), y0: py(y1), y1: py(y0),
    fillcolor: fill, line: {color: line, width: lw}, layer: 'above'});
}
function dot(cx, cy, rr, color) {
  layout.shapes.push({type: 'circle', xref: 'paper', yref: 'paper', x0: px(cx - rr), x1: px(cx + rr), y0: py(cy + rr), y1: py(cy - rr),
    fillcolor: color, line: {color: color, width: 0}, layer: 'above'});
}
function label(x, y, text, size) {
  layout.annotations.push({xref: 'paper', yref: 'paper', x: px(x), y: py(y), text: text, showarrow: false,
    xanchor: 'left', yanchor: 'middle', font: {family: FONT, size: size, color: '#000'}});
}
rect(76, 8, 843, 35, '#c8c8c8', '#555', 1.5);
dot(102, 22, 4.5, '#000'); label(123, 22, 'meas.', 17);
rect(192, 20.5, 200.5, 24, RED, RED, 0); label(214, 22, 'MCM 3.2', 17);
rect(375, 20.5, 383, 24, BLUE, BLUE, 0); label(397, 22, 'VP2012', 17);
rect(558, 20.5, 566, 24, GREEN, GREEN, 0); label(579, 22, 'VP2012 HO<sub>2</sub> input', 17);
rect(326, 50, 437, 117, '#fff', '#000', 1.5);
dot(339, 66.5, 5, MAG); label(345, 66.5, 'GC FID 1', 18);
dot(339, 84.5, 5, PUR); label(345, 84.5, 'GC FID 2', 18);
dot(339, 102.5, 5, '#000'); label(345, 102.5, 'PTRMS', 18);
rect(352, 195, 435, 242, '#fff', '#000', 1.5);
dot(366, 207, 5, '#000'); label(377, 207, 'LIF', 18);
dot(366, 228.5, 5, MAG); label(377, 228.5, 'DOAS', 18);
rect(87, 763, 201, 809, '#fff', '#000', 1.5);
dot(105, 775, 5, MAG); label(115, 775, 'GC FID 1', 17);
dot(105, 794, 5, PUR); label(115, 794, 'GC FID 2', 17);
rect(481, 765, 577, 790, '#fff', '#000', 1.5);
dot(494, 777.5, 5, '#000'); label(508, 777.5, 'PTRMS', 17);

// ================= TRACES =================
const traces = [];
function ln(n, x, y, color) {
  traces.push({type: 'scatter', mode: 'lines', x: x, y: y, xaxis: 'x' + sfx(n), yaxis: 'y' + sfx(n),
    line: {color: color, width: 2.2}, hoverinfo: 'skip'});
}
function pts(n, x, y, color, size, err, errColor) {
  const t = {type: 'scatter', mode: 'markers', x: x, y: y, xaxis: 'x' + sfx(n), yaxis: 'y' + sfx(n),
    marker: {color: color, size: size, line: {width: 0}}, hoverinfo: 'skip'};
  if (err) t.error_y = {type: 'constant', value: err, color: errColor, thickness: 1, width: 0};
  traces.push(t);
}
const X = p => p.map(a => a[0]), Y = p => p.map(a => a[1]);

pts(1, X(bpPTR), Y(bpPTR), '#000', 6.5);
pts(1, bpGCT, bpGC1, MAG, 7.5);
pts(1, bpGCT, bpGC2, PUR, 7.5);
ln(1, bpT, bpVP, BLUE); ln(1, bpT, bpVPH, GREEN); ln(1, bpT, bpMCM, RED);
pts(2, X(kMeas), Y(kMeas), '#000', 7);
ln(2, kT, kVPH, GREEN); ln(2, kT, kVP, BLUE); ln(2, kT, kMCM, RED);
pts(3, X(ohLIF), Y(ohLIF), '#000', 6.5, 1.1, '#c4c4c4');
pts(3, X(ohDOAS), Y(ohDOAS), MAG, 6.5, 1.3, '#f2a6f2');
ln(3, ohT, ohVPH, GREEN); ln(3, ohT, ohVP, BLUE); ln(3, ohT, ohMCM, RED);
pts(4, X(hoMeas), Y(hoMeas), '#000', 6.5, 0.45, '#c4c4c4');
ln(4, X(hoMeas), Y(hoMeas), GREEN); ln(4, hoT, hoVP, BLUE); ln(4, hoT, hoMCM, RED);
pts(5, X(roMeas), Y(roMeas), '#000', 6.5, 0.45, '#c4c4c4');
ln(5, roT, roVPH, GREEN); ln(5, roT, roVP, BLUE); ln(5, roT, roMCM, RED);
pts(6, X(o3Meas), Y(o3Meas), '#000', 6);
ln(6, o3T, o3VPH, GREEN); ln(6, o3T, o3VP, BLUE); ln(6, o3T, o3MCM, RED);
pts(7, X(noMeas), Y(noMeas), '#000', 6.5);
ln(7, noTg, noVPH, GREEN); ln(7, noT, noVP, BLUE); ln(7, noT, noMCM, RED);
pts(8, X(n2Meas), Y(n2Meas), '#000', 6.5);
ln(8, n2T, n2VPH, GREEN); ln(8, n2T, n2VP, BLUE); ln(8, n2T, n2MCM, RED);
pts(9, X(coMeas), Y(coMeas), '#000', 6.5);
ln(9, coT, coVPH, GREEN); ln(9, coT, coVP, BLUE); ln(9, coT, coMCM, RED);
pts(10, X(hcMeas), Y(hcMeas), '#000', 6.5);
ln(10, hcT, hcVPH, GREEN); ln(10, hcT, hcVP, BLUE); ln(10, hcT, hcMCM, RED);
pts(11, acGCT, acGC1, MAG, 7);
pts(11, acGCT, acGC2, PUR, 7);
ln(11, acT, acVP, BLUE); ln(11, acT, acVPH, GREEN); ln(11, acT, acMCM, RED);
pts(12, X(npMeas), Y(npMeas), '#000', 6, 0.03, '#000');
ln(12, npT, npVP, BLUE); ln(12, npT, npVPH, GREEN); ln(12, npT, npMCM, RED);

Plotly.newPlot('chart', traces, layout, {staticPlot: true, displayModeBar: false});
</script></body></html>
